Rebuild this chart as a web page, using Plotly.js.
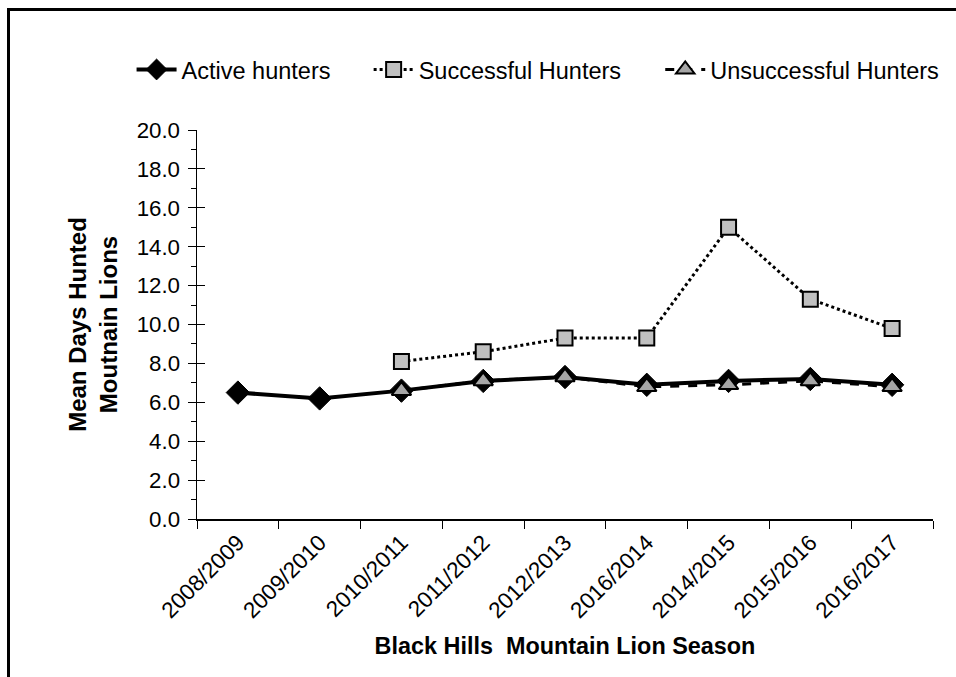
<!DOCTYPE html>
<html>
<head>
<meta charset="utf-8">
<script src="https://cdn.plot.ly/plotly-3.0.1.min.js"></script>
<style>
  html, body { margin: 0; padding: 0; background: #fff; }
  #wrap { position: relative; width: 956px; height: 677px; overflow: hidden; }
  #frame { position: absolute; left: 7px; top: 8px; right: -10px; bottom: -10px; border-left: 3px solid #000; border-top: 3px solid #000; pointer-events: none; z-index: 5; }
  #chart { width: 956px; height: 677px; }
</style>
</head>
<body>
<div id="wrap">
  <div id="chart"></div>
  <div id="frame"></div>
</div>
<script>
const seasons = ["2008/2009", "2009/2010", "2010/2011", "2011/2012", "2012/2013", "2016/2014", "2014/2015", "2015/2016", "2016/2017"];
const activeHunters = [6.5, 6.2, 6.6, 7.1, 7.3, 6.9, 7.1, 7.2, 6.9];
const successfulHunters = [null, null, 8.1, 8.6, 9.3, 9.3, 15.0, 11.3, 9.8];
const unsuccessfulHunters = [null, null, 6.6, 7.1, 7.3, 6.8, 6.9, 7.1, 6.8];

const FONT = "Liberation Sans, Arial, sans-serif";

const traces = [
  {
    x: seasons, y: activeHunters, name: "Active hunters", type: "scatter", mode: "lines+markers",
    legend: "legend",
    line: { color: "#000", width: 4 },
    marker: { symbol: "diamond", size: 18, color: "#000", line: { color: "#000", width: 1 } }
  },
  {
    x: seasons, y: successfulHunters, name: "Successful Hunters", type: "scatter", mode: "lines+markers",
    legend: "legend2",
    line: { color: "#000", width: 3, dash: "dot" },
    marker: { symbol: "square", size: 15, color: "#c0c0c0", line: { color: "#000", width: 2 } }
  },
  {
    x: seasons, y: unsuccessfulHunters, name: "Unsuccessful Hunters", type: "scatter", mode: "lines+markers",
    legend: "legend3",
    line: { color: "#000", width: 3, dash: "dash" },
    marker: { symbol: "triangle-up", size: 17, color: "#a6a6a6", line: { color: "#000", width: 2 } }
  }
];

const legendBase = {
  orientation: "h", xanchor: "left", y: 1.155, yanchor: "middle",
  font: { family: FONT, size: 23.5, color: "#000" }, itemwidth: 40,
  bgcolor: "rgba(0,0,0,0)", borderwidth: 0
};

const layout = {
  width: 956, height: 677,
  margin: { l: 197, r: 17, t: 130, b: 158 },
  paper_bgcolor: "#fff", plot_bgcolor: "#fff",
  font: { family: FONT, size: 22, color: "#000" },
  showlegend: true,
  legend: Object.assign({}, legendBase, { x: -0.0889 }),
  legend2: Object.assign({}, legendBase, { x: 0.2332 }),
  legend3: Object.assign({}, legendBase, { x: 0.6294 }),
  xaxis: {
    type: "category", categoryorder: "array", categoryarray: seasons,
    range: [-0.5, 8.5],
    showline: true, linecolor: "#000", linewidth: 1.5, mirror: false,
    showgrid: false, zeroline: false,
    ticks: "outside", ticklen: 8, tickwidth: 1, tickcolor: "#000",
    tickson: "boundaries",
    tickangle: -45,
    tickfont: { family: FONT, size: 22.5, color: "#000" },
    title: { text: "Black Hills  Mountain Lion Season", font: { family: FONT, size: 23.4, color: "#000", weight: "bold" }, standoff: 15 }
  },
  yaxis: {
    range: [0, 20], dtick: 2, tick0: 0,
    tickformat: ".1f",
    showline: true, linecolor: "#000", linewidth: 1.5,
    showgrid: false, zeroline: false,
    ticks: "outside", ticklen: 8, tickwidth: 1, tickcolor: "#000",
    ticklabelstandoff: 3,
    minor: { dtick: 1, ticks: "outside", ticklen: 5, tickcolor: "#000", tickwidth: 1 },
    tickfont: { family: FONT, size: 22.3, color: "#000" },
    title: { text: "Mean Days Hunted<br>Moutnain Lions", font: { family: FONT, size: 24, color: "#000", weight: "bold" }, standoff: 12 }
  },
  yaxis2: {
    overlaying: "y", range: [0, 20], dtick: 2, tick0: 0, side: "left",
    showline: false, showgrid: false, zeroline: false, showticklabels: false,
    ticks: "inside", ticklen: 8, tickwidth: 1, tickcolor: "#000"
  }
};

traces.push({ x: seasons, y: activeHunters, yaxis: "y2", type: "scatter", mode: "none", showlegend: false, hoverinfo: "skip" });

Plotly.newPlot("chart", traces, layout, { displayModeBar: false, staticPlot: true });
</script>
</body>
</html>
